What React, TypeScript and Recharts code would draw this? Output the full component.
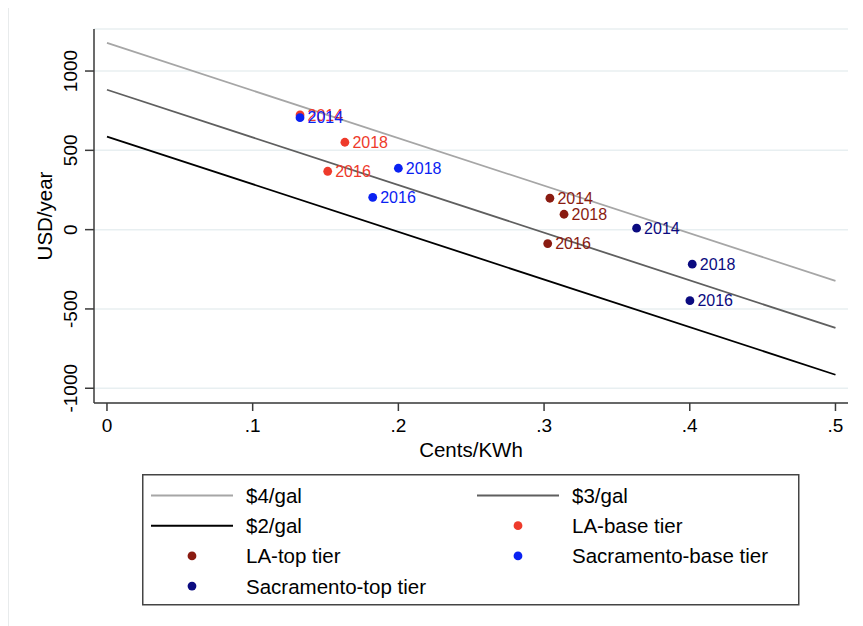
import {
  ComposedChart,
  Line,
  Scatter,
  XAxis,
  YAxis,
  CartesianGrid,
} from 'recharts';

// axis ticks
const X_TICKS = [0, 0.1, 0.2, 0.3, 0.4, 0.5];
const X_TICK_LABELS = ['0', '.1', '.2', '.3', '.4', '.5'];
const Y_TICKS = [-1000, -500, 0, 500, 1000];
const Y_TICK_LABELS = ['-1000', '-500', '0', '500', '1000'];

// break-even lines, value at x = 0 and x = .5
const LINE_NAMES = ['$4/gal', '$3/gal', '$2/gal'];
const LINE_X = [0, 0.5];
const LINE_START = [1177, 882, 587];
const LINE_END = [-323, -620, -915];
const LINE_COLORS = ['#a6a6a6', '#5f5f5f', '#000000'];

// points
const YEARS = [2014, 2016, 2018];
const LA_BASE_X = [0.1325, 0.1515, 0.1633];
const LA_BASE_Y = [723, 368, 551];
const LA_TOP_X = [0.304, 0.3025, 0.3137];
const LA_TOP_Y = [198, -88, 97];
const SAC_BASE_X = [0.1325, 0.1824, 0.2];
const SAC_BASE_Y = [706, 204, 387];
const SAC_TOP_X = [0.3635, 0.4001, 0.4017];
const SAC_TOP_Y = [9, -448, -218];

const FONT = '"Liberation Sans", Arial, Helvetica, sans-serif';

const lines = LINE_NAMES.map((name, i) => ({
  name,
  color: LINE_COLORS[i],
  data: LINE_X.map((x, j) => ({ x, y: j === 0 ? LINE_START[i] : LINE_END[i] })),
}));

const mk = (xs: number[], ys: number[]) =>
  xs.map((x, i) => ({ x, y: ys[i], year: YEARS[i] }));

const points = [
  { name: 'LA-base tier', color: '#ee3a2b', data: mk(LA_BASE_X, LA_BASE_Y) },
  { name: 'LA-top tier', color: '#8a1b11', data: mk(LA_TOP_X, LA_TOP_Y) },
  { name: 'Sacramento-base tier', color: '#0a22f2', data: mk(SAC_BASE_X, SAC_BASE_Y) },
  { name: 'Sacramento-top tier', color: '#0b0b80', data: mk(SAC_TOP_X, SAC_TOP_Y) },
];

const XTick = (props: any) => {
  const { x, y, payload } = props;
  const i = X_TICKS.indexOf(payload.value);
  return (
    <text x={x} y={y + 19} textAnchor='middle' fontSize={19} fontFamily={FONT} fill='#000'>
      {X_TICK_LABELS[i]}
    </text>
  );
};

const YTick = (props: any) => {
  const { x, y, payload } = props;
  const i = Y_TICKS.indexOf(payload.value);
  return (
    <text
      transform={`translate(${x - 6},${y}) rotate(-90)`}
      textAnchor='middle'
      fontSize={19}
      fontFamily={FONT}
      fill='#000'
    >
      {Y_TICK_LABELS[i]}
    </text>
  );
};

const dotShape = (color: string) => (p: any) => (
  <g>
    <circle cx={p.cx} cy={p.cy} r={4.4} fill={color} />
    <text x={p.cx + 7.5} y={p.cy + 5.8} fontSize={16} fontFamily={FONT} fill={color}>
      {p.payload.year}
    </text>
  </g>
);

const legendRows = [
  [lines[0], lines[1]],
  [lines[2], points[0]],
  [points[1], points[2]],
  [points[3]],
];

function Legend() {
  const colX = [0, 326];
  return (
    <svg
      width={658}
      height={132}
      style={{ position: 'absolute', left: 134, top: 466, overflow: 'visible' }}
    >
      <rect x={0.75} y={0.75} width={656} height={130} fill='#fff' stroke='#444' strokeWidth={1.5} />
      {legendRows.map((row, r) =>
        row.map((item: any, c) => {
          const cy = 21.5 + r * 30.2;
          const ox = colX[c];
          const isLine = lines.includes(item);
          return (
            <g key={item.name}>
              {isLine ? (
                <line x1={ox + 9} x2={ox + 91} y1={cy} y2={cy} stroke={item.color} strokeWidth={2} />
              ) : (
                <circle cx={ox + 50} cy={cy} r={4.4} fill={item.color} />
              )}
              <text x={ox + 104} y={cy + 7.5} fontSize={20.5} fontFamily={FONT} fill='#000'>
                {item.name}
              </text>
            </g>
          );
        })
      )}
    </svg>
  );
}

export default function App() {
  return (
    <div style={{ position: 'relative', width: 855, height: 618, fontFamily: FONT }}>
      <div
        style={{
          position: 'absolute',
          left: 0,
          top: -1,
          width: 855,
          height: 620,
          borderTop: '1px solid #e8ebec',
          borderLeft: '1px solid #e8ebec',
        }}
      />
      <ComposedChart
        width={855}
        height={470}
        margin={{ top: 21, right: 15, bottom: 15, left: 0 }}
        style={{ position: 'absolute', left: 0, top: 0 }}
      >
        <CartesianGrid vertical={false} stroke='#e8eff1' strokeWidth={1.5} />
        <XAxis
          type='number'
          dataKey='x'
          domain={[-0.0089, 0.5086]}
          ticks={X_TICKS}
          allowDataOverflow
          height={60}
          tickSize={8}
          tick={<XTick />}
          stroke='#3a3a3a'
          strokeWidth={1.5}
          label={(p: any) => {
            const vb = p.viewBox || { x: 86, y: 395, width: 754 };
            return (
              <text x={vb.x + vb.width / 2} y={vb.y + 54} textAnchor='middle' fontSize={20.5} fontFamily={FONT} fill='#000'>
                Cents/KWh
              </text>
            );
          }}
        />
        <YAxis
          type='number'
          dataKey='y'
          domain={[-1093, 1265]}
          ticks={Y_TICKS}
          allowDataOverflow
          width={86}
          tickSize={9}
          tick={<YTick />}
          stroke='#3a3a3a'
          strokeWidth={1.5}
          label={(p: any) => {
            const vb = p.viewBox || { x: 0, y: 21, width: 86, height: 374 };
            return (
              <text
                transform={`translate(${43.5},${vb.y + vb.height / 2}) rotate(-90)`}
                textAnchor='middle'
                fontSize={20.5}
                fontFamily={FONT}
                fill='#000'
              >
                USD/year
              </text>
            );
          }}
        />
        {lines.map((l) => (
          <Line
            key={l.name}
            data={l.data}
            dataKey='y'
            stroke={l.color}
            strokeWidth={1.8}
            dot={false}
            activeDot={false}
            isAnimationActive={false}
          />
        ))}
        {points.map((s) => (
          <Scatter
            key={s.name}
            data={s.data}
            dataKey='y'
            fill={s.color}
            shape={dotShape(s.color)}
            isAnimationActive={false}
          />
        ))}
      </ComposedChart>
      <Legend />
    </div>
  );
}
